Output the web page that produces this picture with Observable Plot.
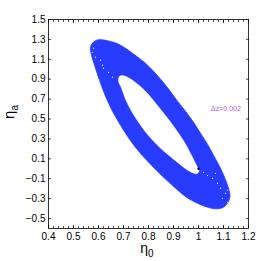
<!DOCTYPE html>
<html><head><meta charset="utf-8">
<script src="https://cdn.jsdelivr.net/npm/d3@7"></script>
<script src="https://cdn.jsdelivr.net/npm/@observablehq/plot@0.6"></script>
<style>body{margin:0;background:#fff} #chart{width:274px;height:261px}</style>
</head><body><div id="chart"></div>
<script>
// Outer boundary of the confidence region (eta0, etaA)
const outerEta0 = [0.568,0.576,0.592,0.612,0.636,0.660,0.688,0.720,0.752,0.788,0.820,0.852,0.884,0.916,0.948,0.980,1.008,1.036,1.060,1.084,1.104,1.120,1.126,1.116,1.096,1.068,1.036,0.996,0.952,0.904,0.856,0.808,0.764,0.724,0.688,0.656,0.628,0.604,0.584,0.572];
const outerEtaA = [1.222,1.262,1.292,1.297,1.287,1.272,1.242,1.191,1.131,1.061,0.980,0.890,0.789,0.679,0.578,0.468,0.357,0.247,0.136,0.026,-0.085,-0.196,-0.276,-0.346,-0.391,-0.402,-0.386,-0.346,-0.286,-0.186,-0.075,0.046,0.166,0.297,0.438,0.578,0.729,0.890,1.041,1.141];
// Inner boundary (hole)
const innerEta0 = [0.684,0.700,0.724,0.752,0.784,0.816,0.848,0.880,0.912,0.944,0.972,0.992,1.002,0.992,0.964,0.920,0.876,0.832,0.792,0.760,0.732,0.708,0.692,0.680];
const innerEtaA = [0.930,0.935,0.910,0.860,0.789,0.699,0.598,0.498,0.387,0.267,0.136,0.036,-0.025,-0.050,-0.025,0.056,0.146,0.247,0.357,0.468,0.578,0.699,0.810,0.880];
// Sparse gaps (white specks) inside the band
const speckEta0 = [1.020,1.036,1.056,1.076,1.088,1.108,1.096,1.116,1.068,1.116,0.576,0.588,0.608,0.616,0.620,0.640,0.656,0.580];
const speckEtaA = [-0.035,-0.065,-0.095,-0.145,-0.195,-0.246,-0.296,-0.336,-0.045,-0.216,1.171,1.121,1.091,1.041,1.011,0.970,0.920,1.212];
// Fiducial model
const fiducialEta0 = [1.0];
const fiducialEtaA = [0.0];
// Annotation
const noteText = ["Δz=0.002"];
const noteEta0 = [1.11];
const noteEtaA = [0.6];

const xTicks = [0.4,0.5,0.6,0.7,0.8,0.9,1.0,1.1,1.2];
const xTickLabels = ["0.4","0.5","0.6","0.7","0.8","0.9","1","1.1","1.2"];
const yTicks = [1.5,1.3,1.1,0.9,0.7,0.5,0.3,0.1,-0.1,-0.3,-0.5];
const yTickLabels = ["1.5","1.3","1.1","0.9","0.7","0.5","0.3","0.1","\u22120.1","\u22120.3","\u22120.5"];
const xLabel = ["η","0"];
const yLabel = ["η","a"];

const BLUE = "#283cff";
const zip = (a, b) => a.map((v, i) => ({eta0: v, etaA: b[i]}));
const outer = zip(outerEta0, outerEtaA);
const inner = zip(innerEta0, innerEtaA);
const speck = zip(speckEta0, speckEtaA);
const fiducial = zip(fiducialEta0, fiducialEtaA);
const note = noteText.map((t, i) => ({t, eta0: noteEta0[i], etaA: noteEtaA[i]}));
const xMap = new Map(xTicks.map((d, i) => [d, xTickLabels[i]]));
const yMap = new Map(yTicks.map((d, i) => [d, yTickLabels[i]]));
const xMinor = d3.range(0, 41).map(i => +(0.4 + i * 0.02).toFixed(2));
const FONT = "'Liberation Sans', Arial, Helvetica, sans-serif";

const plot = Plot.plot({
  width: 274, height: 261,
  marginLeft: 48, marginRight: 26, marginTop: 19, marginBottom: 33,
  x: {domain: [0.4, 1.2], label: null},
  y: {domain: [-0.6, 1.5], label: null},
  style: {fontFamily: FONT, fontSize: "10px", background: "#fff", color: "#000"},
  marks: [
    Plot.line(outer, {x: "eta0", y: "etaA", curve: "catmull-rom-closed", fill: BLUE, stroke: BLUE, strokeWidth: 0.8}),
    Plot.line(inner, {x: "eta0", y: "etaA", curve: "catmull-rom-closed", fill: "#fff", stroke: "#fff", strokeWidth: 0.4}),
    Plot.dot(speck, {x: "eta0", y: "etaA", r: 0.6, fill: "#fff", stroke: null}),
    Plot.dot(fiducial, {x: "eta0", y: "etaA", r: 1.2, fill: "#000", stroke: null}),
    Plot.text(note, {x: "eta0", y: "etaA", text: "t", fill: "#b45cf0", fontSize: 7}),
    Plot.frame({stroke: "#000", strokeWidth: 0.8}),
    Plot.axisX(xTicks, {anchor: "bottom", tickSize: 0, tickPadding: 4, tickFormat: d => xMap.get(d), label: null, fontSize: 10}),
    Plot.axisY(yTicks, {anchor: "left", tickSize: 0, tickPadding: 3, tickFormat: d => yMap.get(d), label: null, fontSize: 10}),
    Plot.axisX(xMinor, {anchor: "bottom", tickSize: -2, tickFormat: () => "", label: null, strokeWidth: 0.7}),
    Plot.axisX(xMinor, {anchor: "top", tickSize: -2, tickFormat: () => "", label: null, strokeWidth: 0.7}),
    Plot.axisX(xTicks, {anchor: "bottom", tickSize: -3, tickFormat: () => "", label: null, strokeWidth: 0.7}),
    Plot.axisX(xTicks, {anchor: "top", tickSize: -3, tickFormat: () => "", label: null, strokeWidth: 0.7}),
    Plot.axisY(yTicks, {anchor: "left", tickSize: -3, tickFormat: () => "", label: null, strokeWidth: 0.7}),
    Plot.axisY(yTicks, {anchor: "right", tickSize: -3, tickFormat: () => "", label: null, strokeWidth: 0.7})
  ]
});

const svg = d3.select(plot);
const xl = svg.append("text").attr("x", 147).attr("y", 253).attr("text-anchor", "middle")
  .style("font-family", FONT).attr("fill", "#000");
xl.append("tspan").attr("font-size", 14).text(xLabel[0]);
xl.append("tspan").attr("font-size", 10).attr("dy", 4).text(xLabel[1]);
const yl = svg.append("text").attr("transform", "translate(14,112) rotate(-90)").attr("text-anchor", "middle")
  .style("font-family", FONT).attr("fill", "#000");
yl.append("tspan").attr("font-size", 15).text(yLabel[0]);
yl.append("tspan").attr("font-size", 10).attr("dy", 4).text(yLabel[1]);

document.getElementById("chart").appendChild(plot);
</script>
</body></html>
